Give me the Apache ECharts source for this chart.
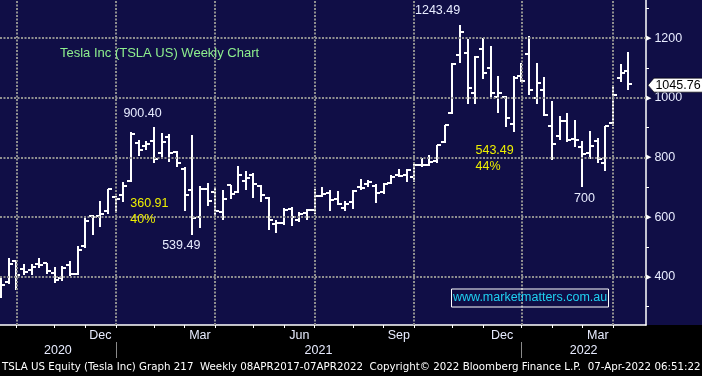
<!DOCTYPE html>
<html>
<head>
<meta charset="utf-8">
<script src="https://cdn.jsdelivr.net/npm/echarts@6/dist/echarts.min.js"></script>
<style>
  html, body { margin: 0; padding: 0; background: #000; }
  #chart { width: 702px; height: 376px; }
</style>
</head>
<body>
<div id="chart"></div>
<script>
// weekly bars, dated by the Friday of each week
var weeks = [
  '2020-09-11', '2020-09-18', '2020-09-25', '2020-10-02', '2020-10-09', '2020-10-16', '2020-10-23', '2020-10-30',
  '2020-11-06', '2020-11-13', '2020-11-20', '2020-11-27', '2020-12-04', '2020-12-11', '2020-12-18', '2020-12-25',
  '2021-01-01', '2021-01-08', '2021-01-15', '2021-01-22', '2021-01-29', '2021-02-05', '2021-02-12', '2021-02-19',
  '2021-02-26', '2021-03-05', '2021-03-12', '2021-03-19', '2021-03-26', '2021-04-02', '2021-04-09', '2021-04-16',
  '2021-04-23', '2021-04-30', '2021-05-07', '2021-05-14', '2021-05-21', '2021-05-28', '2021-06-04', '2021-06-11',
  '2021-06-18', '2021-06-25', '2021-07-02', '2021-07-09', '2021-07-16', '2021-07-23', '2021-07-30', '2021-08-06',
  '2021-08-13', '2021-08-20', '2021-08-27', '2021-09-03', '2021-09-10', '2021-09-17', '2021-09-24', '2021-10-01',
  '2021-10-08', '2021-10-15', '2021-10-22', '2021-10-29', '2021-11-05', '2021-11-12', '2021-11-19', '2021-11-26',
  '2021-12-03', '2021-12-10', '2021-12-17', '2021-12-24', '2021-12-31', '2022-01-07', '2022-01-14', '2022-01-21',
  '2022-01-28', '2022-02-04', '2022-02-11', '2022-02-18', '2022-02-25', '2022-03-04', '2022-03-11', '2022-03-18',
  '2022-03-25', '2022-04-01', '2022-04-08'
];
var opens = [
  356.00, 380.95, 453.13, 424.62, 423.35, 442.00, 446.24, 411.63, 394.00, 439.50,
  408.93, 503.50, 602.42, 604.92, 619.00, 666.24, 674.51, 719.46, 849.40, 837.80,
  855.00, 814.29, 869.67, 818.00, 762.64, 690.11, 600.55, 694.09, 684.59, 615.64,
  707.71, 685.70, 719.60, 741.00, 703.80, 664.90, 575.55, 581.60, 627.80, 591.80,
  612.23, 624.48, 671.64, 681.71, 662.20, 629.90, 650.97, 700.00, 710.17, 705.07,
  685.44, 714.72, 740.00, 740.21, 734.56, 773.12, 776.20, 787.65, 851.77, 950.53,
  1145.00, 1149.79, 1017.63, 1162.33, 1100.99, 1001.51, 1001.09, 910.70, 1073.67, 1147.75,
  1000.00, 1026.61, 904.76, 872.71, 923.79, 861.57, 834.13, 815.01, 856.30, 780.61,
  914.98, 1065.10, 1089.38
];
var highs = [
  398.99, 461.94, 456.00, 443.50, 441.28, 462.00, 447.00, 433.00, 436.40, 452.50,
  503.00, 598.78, 607.80, 654.32, 695.00, 669.00, 718.72, 884.49, 859.90, 855.72,
  900.40, 880.50, 877.77, 821.00, 768.50, 875.00, 705.00, 713.18, 699.62, 692.42,
  708.16, 770.00, 753.77, 749.30, 706.00, 666.14, 591.00, 631.00, 633.80, 617.00,
  628.35, 695.00, 700.00, 690.00, 687.24, 655.00, 692.00, 726.94, 722.80, 709.50,
  715.00, 740.39, 761.00, 761.04, 779.00, 799.00, 806.97, 843.21, 910.00, 1115.21,
  1243.49, 1197.00, 1138.72, 1201.95, 1172.84, 1072.38, 1005.00, 1072.98, 1117.00, 1208.00,
  1115.60, 1070.79, 990.00, 937.99, 947.77, 925.00, 856.73, 888.00, 866.14, 907.00,
  1040.70, 1114.77, 1152.87
];
var lows = [
  329.88, 375.88, 355.00, 406.05, 405.10, 430.00, 410.00, 379.11, 385.00, 401.00,
  405.00, 495.00, 541.21, 566.34, 610.00, 612.77, 650.00, 717.19, 803.62, 826.00,
  780.10, 795.56, 785.33, 768.00, 619.00, 539.49, 563.00, 636.00, 600.00, 591.00,
  660.00, 682.00, 691.00, 664.00, 650.00, 557.00, 546.98, 572.00, 569.00, 582.00,
  590.00, 611.00, 667.00, 620.46, 641.00, 620.00, 627.50, 692.00, 701.00, 648.84,
  679.00, 710.00, 734.00, 718.00, 718.00, 768.00, 772.00, 780.50, 848.00, 944.20,
  1118.00, 978.60, 978.79, 1064.00, 1000.21, 950.50, 902.00, 886.12, 1054.59, 1010.00,
  980.00, 940.00, 792.01, 858.00, 850.70, 835.00, 700.00, 796.00, 780.00, 756.00,
  905.00, 1052.00, 1026.00
];
var closes = [
  372.72, 442.15, 407.34, 415.09, 434.00, 439.67, 420.63, 388.04, 429.95, 408.50,
  489.61, 585.76, 599.04, 609.99, 695.00, 661.77, 705.67, 880.02, 826.16, 846.64,
  793.53, 852.23, 816.12, 781.30, 675.50, 597.95, 693.73, 654.87, 618.71, 661.75,
  677.02, 739.78, 729.40, 709.44, 672.37, 589.74, 580.88, 625.22, 599.05, 609.89,
  623.31, 671.87, 678.90, 656.95, 644.22, 643.38, 687.20, 699.10, 717.17, 680.26,
  711.92, 733.57, 736.27, 759.49, 774.39, 775.22, 785.49, 843.03, 909.68, 1114.00,
  1222.09, 1033.42, 1137.06, 1081.92, 1014.97, 1017.03, 932.57, 1067.00, 1056.78, 1026.96,
  1049.61, 943.90, 846.35, 923.32, 860.00, 856.98, 809.87, 838.29, 795.35, 905.39,
  1010.64, 1084.59, 1045.76
];

var monthNames = ['Jan', 'Feb', 'Mar', 'Apr', 'May', 'Jun', 'Jul', 'Aug', 'Sep', 'Oct', 'Nov', 'Dec'];
var shownMonths = ['Mar', 'Jun', 'Sep', 'Dec'];
var priceTicks = [300, 400, 500, 600, 700, 800, 900, 1000, 1100, 1200, 1300];
var priceLabels = [400, 600, 800, 1000, 1200];

var XMIN = -0.13, XMAX = 84.3;
var YMIN = 238, YMAX = 1328;
var FONT = 'Liberation Sans, Arial, sans-serif';
var WHITE = '#e8ecff';
var GRID = '#8f8f8f';

function monthOf(d) { return +d.slice(5, 7); }

// last week of each month -> axis ticks; quarter / year ends -> grid lines and separators
var monthEnds = [];
for (var i = 0; i < weeks.length - 1; i++) {
  if (monthOf(weeks[i]) !== monthOf(weeks[i + 1])) monthEnds.push(i);
}
var quarterEnds = monthEnds.filter(function (i) { return monthOf(weeks[i]) % 3 === 0; });
var yearEnds = monthEnds.filter(function (i) { return monthOf(weeks[i]) === 12; });

var monthLabelPos = [], monthLabelText = [];
for (var k = 1; k < monthEnds.length; k++) {
  var mName = monthNames[monthOf(weeks[monthEnds[k]]) - 1];
  if (shownMonths.indexOf(mName) >= 0) {
    monthLabelPos.push((monthEnds[k - 1] + monthEnds[k]) / 2);
    monthLabelText.push(mName);
  }
}
var bounds = [XMIN].concat(yearEnds, [XMAX]);
var yearLabelPos = [], yearLabelText = [];
for (k = 0; k < bounds.length - 1; k++) {
  yearLabelPos.push((bounds[k] + bounds[k + 1]) / 2);
  yearLabelText.push(weeks[k === 0 ? 0 : yearEnds[k - 1] + 1].slice(0, 4));
}
function pick(pos, text) {
  return function (v) {
    for (var j = 0; j < pos.length; j++) if (Math.abs(pos[j] - v) < 1e-6) return text[j];
    return '';
  };
}

var bars = weeks.map(function (d, i) { return [i, opens[i], highs[i], lows[i], closes[i]]; });

// swings annotated on the chart
function argMax(arr, a, b) { var m = a; for (var j = a; j <= b; j++) if (arr[j] > arr[m]) m = j; return m; }
function argMin(arr, a, b) { var m = a; for (var j = a; j <= b; j++) if (arr[j] < arr[m]) m = j; return m; }
var top1 = argMax(highs, 0, 30);
var low1 = argMin(lows, top1, 40);
var top2 = argMax(highs, 0, weeks.length - 1);
var low2 = argMin(lows, top2, weeks.length - 1);
var last = weeks.length - 1;
function swing(a, b) {
  var d = a - b;
  return d.toFixed(2) + '\n' + Math.round(d / a * 100) + '%';
}

function renderBar(params, api) {
  var i = api.value(0);
  var o = api.coord([i, api.value(1)]);
  var h = api.coord([i, api.value(2)]);
  var l = api.coord([i, api.value(3)]);
  var c = api.coord([i, api.value(4)]);
  var x = Math.round(o[0]);
  var st = { stroke: '#ffffff', lineWidth: 2 };
  return {
    type: 'group',
    children: [
      { type: 'line', shape: { x1: x, y1: Math.round(h[1]), x2: x, y2: Math.round(l[1]) }, style: st },
      { type: 'line', shape: { x1: x - 4, y1: Math.round(o[1]), x2: x, y2: Math.round(o[1]) }, style: st },
      { type: 'line', shape: { x1: x, y1: Math.round(c[1]), x2: x + 4, y2: Math.round(c[1]) }, style: st }
    ]
  };
}

function note(i, v, text, dx, dy, color, align) {
  return {
    coord: [i, v],
    symbol: 'circle',
    symbolSize: 1,
    itemStyle: { color: 'rgba(0,0,0,0)' },
    label: {
      show: true, position: 'inside', formatter: text, offset: [dx, dy],
      color: color, fontSize: 12.5, fontFamily: FONT, align: align || 'center', lineHeight: 16
    }
  };
}

var chart = echarts.init(document.getElementById('chart'));
chart.setOption({
  animation: false,
  backgroundColor: '#100e46',
  graphic: [{
    type: 'rect', left: 0, top: 325, z: -10,
    shape: { width: 702, height: 51 }, style: { fill: '#000000' }
  }],
  title: [
    {
      text: 'Tesla Inc (TSLA US) Weekly Chart', left: 60, top: 47, padding: 0,
      textStyle: { color: '#8ef08e', fontSize: 13, fontWeight: 'normal', fontFamily: FONT }
    },
    {
      text: 'www.marketmatters.com.au', left: 451, top: 289, padding: [1.5, 2, 1.5, 2],
      borderColor: '#ffffff', borderWidth: 1,
      textStyle: { color: '#1fd0f0', fontSize: 12.5, fontWeight: 'normal', fontFamily: FONT, lineHeight: 15 }
    },
    {
      text: 'TSLA US Equity (Tesla Inc) Graph 217  Weekly 08APR2017-07APR2022  Copyright\u00a9 2022 Bloomberg Finance L.P.  07-Apr-2022 06:51:22',
      left: 2, top: 362, padding: 0,
      textStyle: { color: '#ffffff', fontSize: 10.28, fontWeight: 'normal', fontFamily: 'DejaVu Sans' }
    }
  ],
  grid: { left: 0, right: 56, top: 0, bottom: 51 },
  xAxis: [
    {
      type: 'value', min: XMIN, max: XMAX, position: 'bottom',
      axisLine: { show: true, onZero: false, lineStyle: { color: '#ffffff', width: 1.5 } },
      axisTick: { show: true, customValues: monthEnds, length: 3, lineStyle: { color: '#ffffff', width: 1 } },
      axisLabel: {
        customValues: monthLabelPos, formatter: pick(monthLabelPos, monthLabelText),
        color: WHITE, fontSize: 12.5, fontFamily: FONT, margin: 4
      },
      splitLine: { show: false }
    },
    {
      type: 'value', min: XMIN, max: XMAX, position: 'bottom', offset: 17,
      axisLine: { show: false, onZero: false },
      axisTick: { show: true, customValues: yearEnds, length: 16, lineStyle: { color: '#8a8a8a', width: 1 } },
      axisLabel: {
        customValues: yearLabelPos, formatter: pick(yearLabelPos, yearLabelText),
        color: WHITE, fontSize: 12.5, fontFamily: FONT, margin: 2
      },
      splitLine: { show: false }
    }
  ],
  yAxis: {
    type: 'value', min: YMIN, max: YMAX, position: 'right',
    axisLine: { show: true, onZero: false, lineStyle: { color: '#ffffff', width: 1.5 } },
    axisTick: { show: true, customValues: priceTicks, length: 3, lineStyle: { color: '#ffffff', width: 1 } },
    axisLabel: {
      customValues: priceLabels, margin: 0,
      formatter: function (v) { return '{a|\u25b6}{b|' + v + '}'; },
      rich: {
        a: { fontSize: 7, color: '#ffffff', fontFamily: 'DejaVu Sans', verticalAlign: 'middle' },
        b: { fontSize: 12.5, color: WHITE, fontFamily: FONT, padding: [0, 0, 0, 3], verticalAlign: 'middle' }
      }
    },
    splitLine: { show: false }
  },
  series: [
    {
      type: 'line', data: [], z: 1, silent: true,
      markLine: {
        silent: true, symbol: ['none', 'none'], label: { show: false },
        lineStyle: { color: GRID, type: [2, 1.5], width: 2 },
        data: quarterEnds.map(function (q) { return { xAxis: q }; })
          .concat(priceLabels.map(function (p) { return { yAxis: p }; }))
      }
    },
    {
      type: 'custom', renderItem: renderBar, data: bars, z: 3,
      encode: { x: 0, y: [1, 2, 3, 4] }, clip: true
    },
    {
      type: 'line', data: [], z: 4, silent: true,
      markPoint: {
        silent: true,
        data: [
          note(top2, highs[top2], highs[top2].toFixed(2), -22.5, -15, WHITE),
          note(top1, highs[top1], highs[top1].toFixed(2), -11.5, -14, WHITE),
          note(low1, lows[low1], lows[low1].toFixed(2), -11, 10, WHITE),
          note(low2, lows[low2], String(Math.round(lows[low2])), 2, 11, WHITE),
          note(low1, lows[low1], swing(highs[top1], lows[low1]), -62, -24, '#eef000', 'left'),
          note(low2, lows[low2], swing(highs[top2], lows[low2]), -107, -29, '#eef000', 'left'),
          {
            coord: [XMAX, closes[last]],
            symbol: 'path://M0,7L6,0L56,0L56,14L6,14Z',
            symbolSize: [56, 14], symbolKeepAspect: false, symbolOffset: [30, 1],
            itemStyle: { color: '#ffffff', borderColor: '#000000', borderWidth: 0.5 },
            label: {
              show: true, position: 'inside', formatter: closes[last].toFixed(2), offset: [2, 0],
              color: '#000000', fontSize: 12.5, fontFamily: FONT
            }
          }
        ]
      }
    }
  ]
});
</script>
</body>
</html>
